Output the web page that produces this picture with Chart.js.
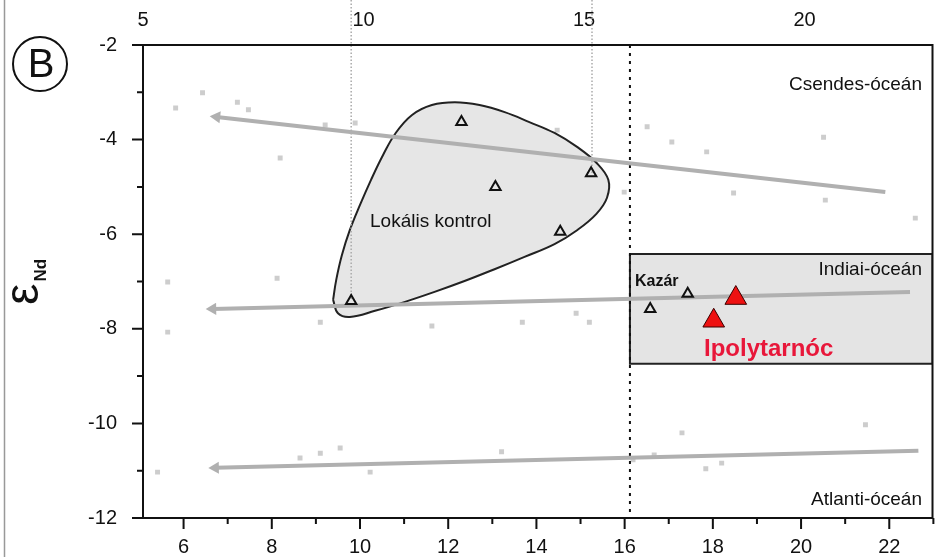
<!DOCTYPE html>
<html>
<head>
<meta charset="utf-8">
<script src="https://cdn.jsdelivr.net/npm/chart.js@4.4.1/dist/chart.umd.min.js"></script>
<style>
  html, body { margin: 0; padding: 0; background: #fff; }
  #wrap { width: 946px; height: 557px; }
</style>
</head>
<body>
<div id="wrap"><canvas id="chart"></canvas></div>
<script>
// tick labels
const xTicks = [6, 8, 10, 12, 14, 16, 18, 20, 22];
const topTicks = [5, 10, 15, 20];
const yTicks = [-2, -4, -6, -8, -10, -12];

// faint background samples
const bgX = [5.82, 6.43, 7.22, 7.47, 9.21, 9.89, 8.19, 10.97, 11.40, 5.64, 8.12, 9.10,
  16.51, 17.07, 17.86, 20.51, 18.47, 20.55, 22.59, 15.99, 5.64, 11.63, 13.68, 14.90, 15.20,
  8.64, 9.10, 9.55, 10.23, 13.21, 5.41, 17.30, 17.84, 18.20, 16.67, 16.19, 21.46,
  13.39, 13.57, 14.47, 19.20, 18.47, 17.19];
const bgY = [-3.33, -3.01, -3.21, -3.37, -3.69, -3.65, -4.39, -4.33, -3.73, -7.01, -6.93, -7.86,
  -3.73, -4.05, -4.26, -3.95, -5.13, -5.28, -5.66, -5.11, -8.07, -7.94, -7.86, -7.67, -7.86,
  -10.73, -10.63, -10.52, -11.03, -10.60, -11.03, -10.20, -10.96, -10.84, -10.67, -10.77, -10.03,
  -3.97, -4.92, -3.80, -7.64, -7.75, -7.77];

// samples
const localX = [12.30, 13.07, 15.24, 14.54, 9.80];
const localY = [-3.63, -5.00, -4.71, -5.95, -7.41];
const kazarX = [16.58, 17.43];
const kazarY = [-7.58, -7.26];
const ipolyX = [18.52, 18.02];
const ipolyY = [-7.35, -7.83];

// ocean trends
const pacificX = [6.75, 21.91];
const pacificY = [-3.52, -5.11];
const indianX = [6.66, 22.47];
const indianY = [-7.58, -7.22];
const atlanticX = [6.72, 22.66];
const atlanticY = [-10.94, -10.58];

// local control field outline
const blobX = [9.39, 9.46, 9.59, 9.77, 10.00, 10.25, 10.52, 10.81, 11.18, 11.63, 12.15, 12.71,
  13.28, 13.84, 14.41, 14.93, 15.36, 15.63, 15.60, 15.36, 14.93, 14.41, 13.73, 13.05, 12.37,
  11.69, 11.02, 10.34, 9.77, 9.50, 9.39];
const blobY = [-7.39, -6.97, -6.44, -5.91, -5.38, -4.85, -4.33, -3.86, -3.48, -3.27, -3.21, -3.27,
  -3.42, -3.63, -3.86, -4.16, -4.49, -4.85, -5.23, -5.57, -5.91, -6.21, -6.48, -6.74, -6.99,
  -7.22, -7.43, -7.62, -7.75, -7.67, -7.39];

// Indian ocean field
const boxX = [16.12, 22.98, 22.98, 16.12, 16.12];
const boxY = [-6.42, -6.42, -8.74, -8.74, -6.42];

// 16 Ma cut-off, guide lines
const cutX = [16.12, 16.12];
const cutY = [-2, -12];
const guide10X = [9.80, 9.80];
const guide10Y = [-1.05, -7.41];
const guide15X = [15.26, 15.26];
const guide15Y = [-1.05, -4.71];

const pts = (xs, ys) => xs.map((x, i) => ({ x: x, y: ys[i] }));

const font = 'Liberation Sans, Arial, sans-serif';

const extras = {
  id: 'extras',
  afterDraw(chart) {
    const ctx = chart.ctx;
    const a = chart.chartArea;
    const sx = chart.scales.x;
    const sy = chart.scales.y;
    ctx.save();

    // outer figure line
    ctx.strokeStyle = '#999';
    ctx.lineWidth = 1.5;
    ctx.beginPath();
    ctx.moveTo(4.5, 0);
    ctx.lineTo(4.5, 557);
    ctx.stroke();

    // frame
    ctx.strokeStyle = '#111';
    ctx.lineWidth = 2;
    ctx.strokeRect(a.left, a.top, a.right - a.left, a.bottom - a.top);

    // tick marks
    ctx.beginPath();
    for (let v = -12; v <= -2; v++) {
      const len = v % 2 === 0 ? 11 : 6;
      const py = sy.getPixelForValue(v);
      ctx.moveTo(a.left - len, py);
      ctx.lineTo(a.left, py);
    }
    for (let v = 6; v <= 23; v++) {
      const len = v % 2 === 0 ? 11 : 6;
      const px = sx.getPixelForValue(v);
      ctx.moveTo(px, a.bottom);
      ctx.lineTo(px, a.bottom + len);
    }
    ctx.stroke();

    // panel letter
    ctx.lineWidth = 2;
    ctx.beginPath();
    ctx.arc(40, 64, 27, 0, Math.PI * 2);
    ctx.stroke();
    ctx.fillStyle = '#111';
    ctx.textAlign = 'center';
    ctx.textBaseline = 'middle';
    ctx.font = '40px ' + font;
    ctx.fillText('B', 41, 66);

    // y title: epsilon Nd
    ctx.save();
    ctx.translate(38, 305);
    ctx.rotate(-Math.PI / 2);
    ctx.textAlign = 'left';
    ctx.textBaseline = 'alphabetic';
    ctx.font = '48px ' + font;
    ctx.fillText('\u03B5', 0, 0);
    const w = ctx.measureText('\u03B5').width;
    ctx.font = 'bold 17px ' + font;
    ctx.fillText('Nd', w + 2, 8);
    ctx.restore();

    // annotations
    ctx.textBaseline = 'alphabetic';
    ctx.fillStyle = '#111';
    ctx.font = '19px ' + font;
    ctx.textAlign = 'right';
    ctx.fillText('Csendes-óceán', 922, 90);
    ctx.fillText('Indiai-óceán', 922, 275);
    ctx.fillText('Atlanti-óceán', 922, 505);
    ctx.textAlign = 'left';
    ctx.fillText('Lokális kontrol', 370, 227);
    ctx.font = 'bold 16px ' + font;
    ctx.fillText('Kazár', 635, 286);
    ctx.fillStyle = '#e8173a';
    ctx.font = 'bold 24px ' + font;
    ctx.fillText('Ipolytarnóc', 704, 356);
    ctx.restore();
  }
};

new Chart(document.getElementById('chart'), {
  type: 'scatter',
  data: {
    datasets: [
      {
        data: pts(bgX, bgY), order: 20,
        pointStyle: 'rect', pointRadius: 3.5, backgroundColor: '#cdcdcd', borderWidth: 0
      },
      {
        data: pts(boxX, boxY), order: 18, showLine: true, tension: 0,
        borderColor: '#222', borderWidth: 2, backgroundColor: '#e4e4e4', fill: 'shape', pointRadius: 0
      },
      {
        data: pts(blobX, blobY), order: 17, showLine: true, tension: 0.4,
        borderColor: '#222', borderWidth: 2, backgroundColor: '#e6e6e6', fill: 'shape', pointRadius: 0
      },
      {
        data: pts(cutX, cutY), order: 16, showLine: true,
        borderColor: '#111', borderWidth: 2, borderDash: [3, 5], pointRadius: 0
      },
      {
        data: pts(guide10X, guide10Y), order: 16, showLine: true, clip: false,
        borderColor: '#aaa', borderWidth: 1.5, borderDash: [1.5, 2], pointRadius: 0
      },
      {
        data: pts(guide15X, guide15Y), order: 16, showLine: true, clip: false,
        borderColor: '#aaa', borderWidth: 1.5, borderDash: [1.5, 2], pointRadius: 0
      },
      {
        data: pts(pacificX, pacificY), order: 15, showLine: true,
        borderColor: '#b0b0b0', borderWidth: 4, backgroundColor: '#b0b0b0',
        pointStyle: 'triangle', pointRadius: [7, 0], pointRotation: -84, pointBorderWidth: 0
      },
      {
        data: pts(indianX, indianY), order: 15, showLine: true,
        borderColor: '#b0b0b0', borderWidth: 4, backgroundColor: '#b0b0b0',
        pointStyle: 'triangle', pointRadius: [7, 0], pointRotation: -91, pointBorderWidth: 0
      },
      {
        data: pts(atlanticX, atlanticY), order: 15, showLine: true,
        borderColor: '#b0b0b0', borderWidth: 4, backgroundColor: '#b0b0b0',
        pointStyle: 'triangle', pointRadius: [7, 0], pointRotation: -91, pointBorderWidth: 0
      },
      {
        data: pts(localX, localY), order: 3,
        pointStyle: 'triangle', pointRadius: 6, borderColor: '#111', borderWidth: 2,
        backgroundColor: 'rgba(255,255,255,0)'
      },
      {
        data: pts(kazarX, kazarY), order: 2,
        pointStyle: 'triangle', pointRadius: 6, borderColor: '#111', borderWidth: 2,
        backgroundColor: 'rgba(255,255,255,0)'
      },
      {
        data: pts(ipolyX, ipolyY), order: 1,
        pointStyle: 'triangle', pointRadius: 12.5, borderColor: '#3a0000', borderWidth: 1,
        backgroundColor: '#ee1111'
      }
    ]
  },
  options: {
    responsive: true,
    maintainAspectRatio: false,
    animation: false,
    layout: { padding: { left: 0, right: 11, top: 0, bottom: 0 } },
    plugins: { legend: { display: false }, tooltip: { enabled: false } },
    scales: {
      x: {
        type: 'linear', position: 'bottom', min: 5.08, max: 22.98,
        afterBuildTicks: s => { s.ticks = xTicks.map(v => ({ value: v })); },
        afterFit: s => { s.height = 39; },
        grid: { display: false, drawTicks: false },
        border: { display: false },
        ticks: { padding: 17, color: '#111', font: { family: font, size: 20 } }
      },
      x2: {
        type: 'linear', position: 'top', min: 5.0, max: 22.9,
        afterBuildTicks: s => { s.ticks = topTicks.map(v => ({ value: v })); },
        afterFit: s => { s.height = 45; },
        grid: { display: false, drawTicks: false },
        border: { display: false },
        ticks: { padding: 13, color: '#111', font: { family: font, size: 20 } }
      },
      y: {
        type: 'linear', min: -12, max: -2,
        afterBuildTicks: s => { s.ticks = yTicks.map(v => ({ value: v })); },
        afterFit: s => { s.width = 143; },
        grid: { display: false, drawTicks: false },
        border: { display: false },
        ticks: { padding: 26, color: '#111', font: { family: font, size: 20 } }
      }
    }
  },
  plugins: [extras]
});
</script>
</body>
</html>
